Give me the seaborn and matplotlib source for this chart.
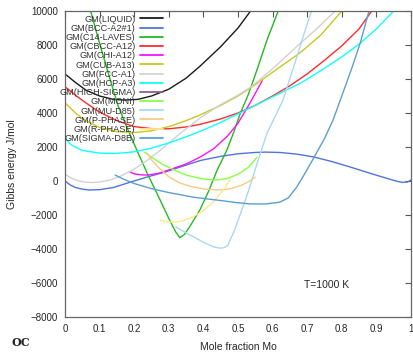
import numpy as np
import pandas as pd
import matplotlib
matplotlib.use("Agg")
import matplotlib.pyplot as plt
import seaborn as sns

# phase names and colours (legend order)
phases = ["GM(LIQUID)", "GM(BCC-A2#1)", "GM(C14-LAVES)", "GM(CBCC-A12)", "GM(CHI-A12)",
          "GM(CUB-A13)", "GM(FCC-A1)", "GM(HCP-A3)", "GM(HIGH-SIGMA)", "GM(MONI)",
          "GM(MU-D85)", "GM(P-PHASE)", "GM(R-PHASE)", "GM(SIGMA-D8B)"]
colors = ["#1a1a1a", "#5073e0", "#22bb22", "#ff2a2a", "#ff10ff",
          "#c8c81e", "#d2d2d2", "#10ffff", "#8b5f8b", "#88ff44",
          "#a8d8f4", "#f6ca88", "#ffe890", "#5c9fd2"]

# curves (x = mole fraction Mo, g = J/mol)
liquid_x = [0.0, 0.03, 0.06, 0.1, 0.14, 0.17, 0.21, 0.25, 0.3, 0.35, 0.39, 0.45, 0.5, 0.54]
liquid_g = [6300, 5800, 5350, 5000, 4800, 4760, 4800, 5000, 5400, 6050, 6750, 7900, 9000, 10100]

bcc_x = [0.0, 0.015, 0.03, 0.05, 0.07, 0.1, 0.14, 0.19, 0.24, 0.29, 0.34, 0.39, 0.45, 0.5, 0.55,
         0.58, 0.62, 0.67, 0.72, 0.77, 0.82, 0.87, 0.91, 0.94, 0.96, 0.975, 0.99, 1.0]
bcc_g = [0, -230, -380, -480, -530, -510, -380, -60, 250, 530, 870, 1200, 1450, 1600, 1680,
         1700, 1680, 1580, 1410, 1150, 850, 530, 280, 100, -20, -80, -60, 60]

c14_x = [0.07, 0.1, 0.13, 0.153, 0.18, 0.208, 0.24, 0.275, 0.3, 0.32, 0.332, 0.345, 0.36,
         0.39, 0.415, 0.44, 0.468, 0.49, 0.506, 0.53, 0.55, 0.584, 0.62]
c14_g = [10300, 8100, 6000, 4450, 3100, 1800, 350, -1120, -2200, -3000, -3330, -3150, -2700,
         -1700, -600, 650, 1820, 3000, 3950, 5100, 6250, 8300, 10200]

cbcc_x = [0.0, 0.03, 0.06, 0.1, 0.15, 0.2, 0.25, 0.3, 0.35, 0.39, 0.45, 0.5, 0.55, 0.6,
          0.65, 0.7, 0.75, 0.8, 0.85, 0.89]
cbcc_g = [5550, 5050, 4600, 4050, 3550, 3200, 3080, 3070, 3180, 3330, 3650, 4000, 4450, 5000,
          5600, 6300, 7100, 7950, 8950, 10100]

chi_x = [0.188, 0.2, 0.22, 0.24, 0.27, 0.3, 0.35, 0.39, 0.43, 0.47, 0.5, 0.535, 0.57]
chi_g = [530, 420, 360, 350, 450, 650, 1000, 1400, 1900, 2650, 3400, 4600, 5900]

cub_x = [0.0, 0.03, 0.06, 0.1, 0.15, 0.2, 0.25, 0.3, 0.35, 0.39, 0.45, 0.5, 0.545, 0.6,
         0.68, 0.74, 0.8]
cub_g = [4600, 4000, 3550, 3150, 2900, 2850, 2950, 3200, 3550, 3880, 4450, 5000, 5600, 6400,
         7550, 8600, 10000]

fcc_x = [0.0, 0.02, 0.04, 0.06, 0.08, 0.1, 0.13, 0.16, 0.2, 0.24, 0.275, 0.33, 0.39, 0.45,
         0.5, 0.535, 0.6, 0.68, 0.73, 0.786]
fcc_g = [400, 150, 0, -70, -90, -60, 60, 280, 700, 1250, 1800, 2750, 3700, 4500, 5050,
         5500, 6600, 8100, 9000, 10100]

hcp_x = [0.0, 0.02, 0.05, 0.1, 0.15, 0.2, 0.25, 0.3, 0.35, 0.4, 0.45, 0.5, 0.55, 0.6, 0.68,
         0.74, 0.8, 0.853, 0.9, 0.95]
hcp_g = [2500, 2100, 1800, 1640, 1620, 1720, 1930, 2240, 2600, 3000, 3450, 3950, 4450, 4950,
         5750, 6500, 7300, 8100, 8950, 10000]

high_sigma_x = []
high_sigma_g = []

moni_x = [0.23, 0.25, 0.28, 0.31, 0.35, 0.39, 0.42, 0.44, 0.47, 0.5, 0.53, 0.555]
moni_g = [1700, 1400, 1000, 700, 350, 150, 70, 60, 150, 400, 800, 1400]

mu_x = [0.32, 0.35, 0.38, 0.41, 0.43, 0.448, 0.46, 0.47, 0.49, 0.514, 0.53, 0.55, 0.584,
        0.61, 0.63, 0.67, 0.69, 0.714]
mu_g = [-2700, -3050, -3380, -3700, -3880, -3950, -3920, -3800, -2900, -1530, -600, 700,
        2820, 3900, 4760, 7300, 8600, 10100]

p_x = [0.237, 0.25, 0.27, 0.3, 0.33, 0.36, 0.4, 0.448, 0.48, 0.51, 0.53, 0.55]
p_g = [1650, 1250, 800, 250, -100, -300, -470, -530, -450, -250, -50, 220]

r_x = [0.275, 0.29, 0.31, 0.32, 0.34, 0.37, 0.4, 0.43, 0.455, 0.477]
r_g = [-2300, -2380, -2420, -2420, -2350, -2100, -1750, -1200, -600, 60]

sigma_x = [0.145, 0.17, 0.2, 0.25, 0.3, 0.37, 0.45, 0.5, 0.535, 0.58, 0.62, 0.645, 0.67,
           0.695, 0.72, 0.75, 0.775, 0.8, 0.83, 0.853, 0.88]
sigma_g = [350, 100, -150, -450, -680, -950, -1150, -1280, -1350, -1350, -1250, -1000, -350,
           500, 1400, 2500, 3600, 5000, 6700, 8100, 10100]

curves_x = [liquid_x, bcc_x, c14_x, cbcc_x, chi_x, cub_x, fcc_x, hcp_x, high_sigma_x,
            moni_x, mu_x, p_x, r_x, sigma_x]
curves_g = [liquid_g, bcc_g, c14_g, cbcc_g, chi_g, cub_g, fcc_g, hcp_g, high_sigma_g,
            moni_g, mu_g, p_g, r_g, sigma_g]

x_ticks = [0, 0.1, 0.2, 0.3, 0.4, 0.5, 0.6, 0.7, 0.8, 0.9, 1.0]
x_tick_labels = ["0", "0.1", "0.2", "0.3", "0.4", "0.5", "0.6", "0.7", "0.8", "0.9", "1"]
y_ticks = list(range(-8000, 10001, 2000))

rows = []
for name, xs, gs in zip(phases, curves_x, curves_g):
    for i, (xv, gv) in enumerate(zip(xs, gs)):
        rows.append({"phase": name, "x": xv, "g": gv, "order": i})
df = pd.DataFrame(rows)

sns.set_theme(style="white")
plt.rcParams['font.family'] = ['Liberation Sans', 'DejaVu Sans']

fig = plt.figure(figsize=(4.14, 3.52), dpi=100)
ax = fig.add_axes([65 / 414, 35 / 352, 346 / 414, 306 / 352])

for name, col in zip(phases, colors):
    sub = df[df["phase"] == name]
    if len(sub) == 0:
        ax.plot([], [], color=col, lw=1.2, label=name)
        continue
    sns.lineplot(data=sub, x="x", y="g", sort=False, estimator=None, color=col,
                 lw=1.0, label=name, ax=ax)

ax.set_xlim(0, 1)
ax.set_ylim(-8000, 10000)
ax.set_xticks(x_ticks)
ax.set_xticklabels(x_tick_labels)
ax.set_yticks(y_ticks)
ax.tick_params(direction="in", length=4, width=0.8, color="#555555", labelsize=7,
               top=True, right=True, pad=5)
for sp in ax.spines.values():
    sp.set_color("#666666")
    sp.set_linewidth(0.9)
ax.set_xlabel("Mole fraction Mo", fontsize=7.5, labelpad=6)
ax.set_ylabel("Gibbs energy J/mol", fontsize=7.5, labelpad=10)
ax.text(0.69, -6100, "T=1000 K", fontsize=7.5, va="center")
fig.text(12 / 414, 1 - 343 / 352, "OC", fontsize=8, fontweight="bold", family="DejaVu Serif",
         va="center")

# labels left of the handles, right aligned (markerfirst=False)
leg = ax.legend(loc="upper right", bbox_to_anchor=(0.283, 0.988), frameon=False,
                markerfirst=False, fontsize=6.6, handlelength=2.5, labelspacing=0.02,
                handletextpad=0.5, borderaxespad=0, borderpad=0)
for t in leg.get_texts():
    t.set_color("#333333")
for h in leg.get_lines():
    h.set_linewidth(1.3)

fig.savefig("out.png", dpi=100)
